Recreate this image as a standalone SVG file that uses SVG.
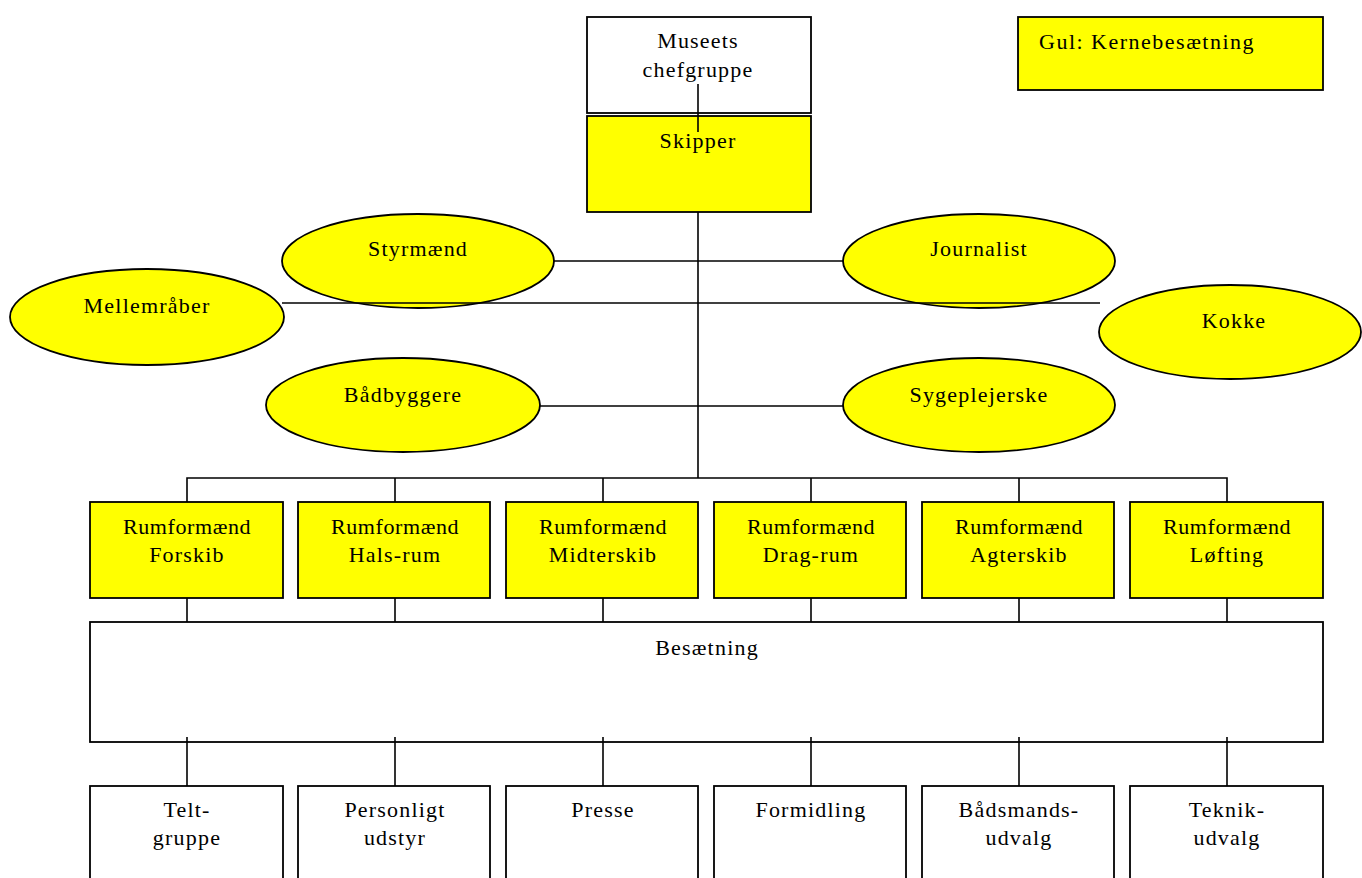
<svg xmlns="http://www.w3.org/2000/svg" width="1362" height="878" viewBox="0 0 1362 878" font-family="'Liberation Serif', 'DejaVu Serif', serif">
<style>
  .box { fill: #ffffff; stroke: #000000; stroke-width: 1.8; }
  .core { fill: #ffff00; stroke: #000000; stroke-width: 1.8; }
  .ell { fill: #ffff00; stroke: #000000; stroke-width: 1.8; }
  .ln { stroke: #000000; stroke-width: 1.6; fill: none; }
  text { font-family: 'Liberation Serif', 'DejaVu Serif', serif; font-size: 22px; fill: #000000; text-anchor: middle; letter-spacing: 1.2px; }
  .rf { letter-spacing: 0.6px; }
  .legend { text-anchor: start; letter-spacing: 1.5px; }
</style>
<rect width="1362" height="878" fill="#ffffff"/>

<g id="legend">
  <rect class="core" x="1018" y="17" width="305" height="73"/>
  <text class="legend" x="1039" y="49">Gul: Kernebesætning</text>
</g>

<g id="museets-chefgruppe">
  <rect class="box" x="587" y="17" width="224" height="96"/>
  <text x="698" y="48">Museets</text>
  <text x="698" y="77">chefgruppe</text>
</g>

<g id="skipper">
  <rect class="core" x="587" y="116" width="224" height="96"/>
  <text x="698" y="148">Skipper</text>
</g>

<g id="styrmaend">
  <ellipse class="ell" cx="418" cy="261" rx="136" ry="47"/>
  <text x="418" y="256">Styrmænd</text>
</g>

<g id="journalist">
  <ellipse class="ell" cx="979" cy="261" rx="136" ry="47"/>
  <text x="979" y="256">Journalist</text>
</g>

<g id="mellemraaber">
  <ellipse class="ell" cx="147" cy="317" rx="137" ry="48"/>
  <text x="147" y="313">Mellemråber</text>
</g>

<g id="kokke">
  <ellipse class="ell" cx="1230" cy="332" rx="131" ry="47"/>
  <text x="1234" y="328">Kokke</text>
</g>

<g id="baadbyggere">
  <ellipse class="ell" cx="403" cy="405" rx="137" ry="47"/>
  <text x="403" y="402">Bådbyggere</text>
</g>

<g id="sygeplejerske">
  <ellipse class="ell" cx="979" cy="405" rx="136" ry="47"/>
  <text x="979" y="402">Sygeplejerske</text>
</g>

<g id="rf-forskib">
  <rect class="core" x="90" y="502" width="193" height="96"/>
  <text x="187" y="534"><tspan class="rf">Rumformænd</tspan></text>
  <text x="187" y="562">Forskib</text>
</g>
<g id="rf-halsrum">
  <rect class="core" x="298" y="502" width="192" height="96"/>
  <text x="395" y="534"><tspan class="rf">Rumformænd</tspan></text>
  <text x="395" y="562">Hals-rum</text>
</g>
<g id="rf-midterskib">
  <rect class="core" x="506" y="502" width="192" height="96"/>
  <text x="603" y="534"><tspan class="rf">Rumformænd</tspan></text>
  <text x="603" y="562">Midterskib</text>
</g>
<g id="rf-dragrum">
  <rect class="core" x="714" y="502" width="192" height="96"/>
  <text x="811" y="534"><tspan class="rf">Rumformænd</tspan></text>
  <text x="811" y="562">Drag-rum</text>
</g>
<g id="rf-agterskib">
  <rect class="core" x="922" y="502" width="192" height="96"/>
  <text x="1019" y="534"><tspan class="rf">Rumformænd</tspan></text>
  <text x="1019" y="562">Agterskib</text>
</g>
<g id="rf-lofting">
  <rect class="core" x="1130" y="502" width="193" height="96"/>
  <text x="1227" y="534"><tspan class="rf">Rumformænd</tspan></text>
  <text x="1227" y="562">Løfting</text>
</g>

<g id="besaetning">
  <rect class="box" x="90" y="622" width="1233" height="120"/>
  <text x="707" y="655">Besætning</text>
</g>

<g id="teltgruppe">
  <rect class="box" x="90" y="786" width="193" height="110"/>
  <text x="187" y="817">Telt-</text>
  <text x="187" y="845">gruppe</text>
</g>
<g id="personligt-udstyr">
  <rect class="box" x="298" y="786" width="192" height="110"/>
  <text x="395" y="817">Personligt</text>
  <text x="395" y="845">udstyr</text>
</g>
<g id="presse">
  <rect class="box" x="506" y="786" width="192" height="110"/>
  <text x="603" y="817">Presse</text>
</g>
<g id="formidling">
  <rect class="box" x="714" y="786" width="192" height="110"/>
  <text x="811" y="817">Formidling</text>
</g>
<g id="baadsmandsudvalg">
  <rect class="box" x="922" y="786" width="192" height="110"/>
  <text x="1019" y="817">Bådsmands-</text>
  <text x="1019" y="845">udvalg</text>
</g>
<g id="teknikudvalg">
  <rect class="box" x="1130" y="786" width="193" height="110"/>
  <text x="1227" y="817">Teknik-</text>
  <text x="1227" y="845">udvalg</text>
</g>

<g id="connectors" class="ln">
  <line x1="698" y1="84" x2="698" y2="132"/>
  <line x1="698" y1="212" x2="698" y2="478"/>
  <line x1="554" y1="261" x2="843" y2="261"/>
  <line x1="282" y1="303" x2="1100" y2="303"/>
  <line x1="540" y1="406" x2="843" y2="406"/>
  <polyline points="187,502 187,478 1227,478 1227,502"/>
  <line x1="395" y1="478" x2="395" y2="502"/>
  <line x1="603" y1="478" x2="603" y2="502"/>
  <line x1="811" y1="478" x2="811" y2="502"/>
  <line x1="1019" y1="478" x2="1019" y2="502"/>
  <line x1="187" y1="598" x2="187" y2="622"/>
  <line x1="395" y1="598" x2="395" y2="622"/>
  <line x1="603" y1="598" x2="603" y2="622"/>
  <line x1="811" y1="598" x2="811" y2="622"/>
  <line x1="1019" y1="598" x2="1019" y2="622"/>
  <line x1="1227" y1="598" x2="1227" y2="622"/>
  <line x1="187" y1="737" x2="187" y2="786"/>
  <line x1="395" y1="737" x2="395" y2="786"/>
  <line x1="603" y1="737" x2="603" y2="786"/>
  <line x1="811" y1="737" x2="811" y2="786"/>
  <line x1="1019" y1="737" x2="1019" y2="786"/>
  <line x1="1227" y1="737" x2="1227" y2="786"/>
</g>
</svg>
